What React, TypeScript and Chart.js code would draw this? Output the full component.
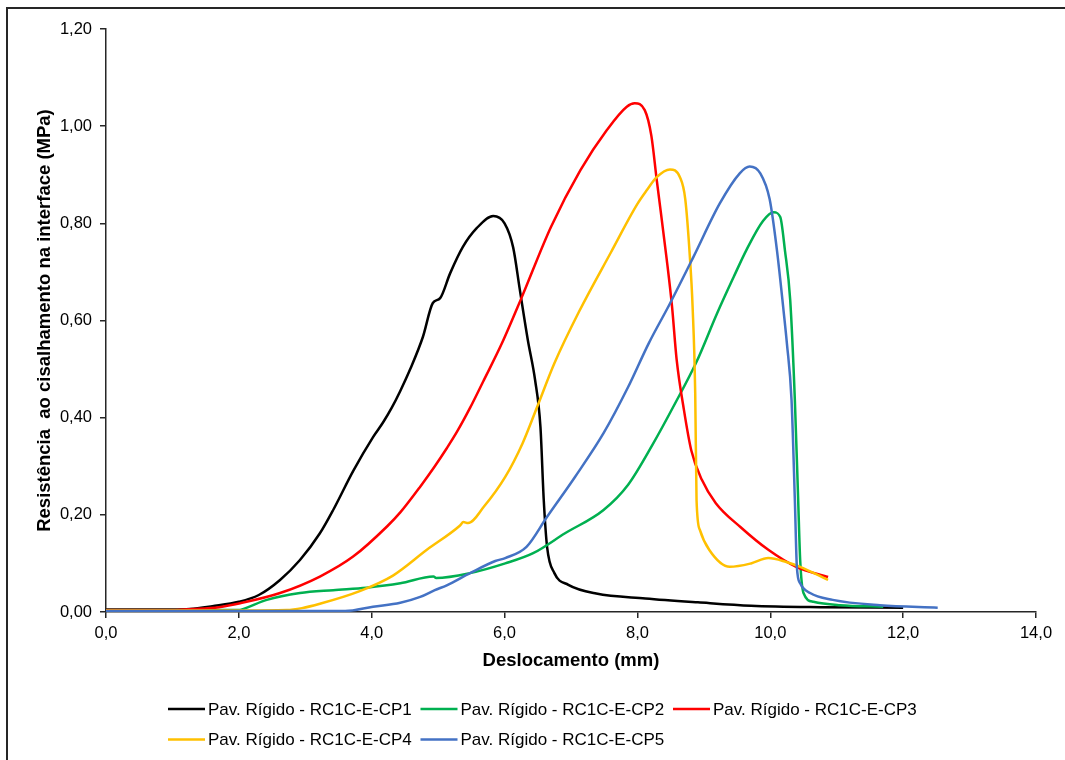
import React, { useEffect, useRef } from "react";
import { Chart, registerables } from "chart.js";

Chart.register(...registerables);

// ---- Data (x: Deslocamento mm, y: Resistência MPa) ----
const cp1X = [0, 1.0, 1.26, 1.6, 2.0, 2.3, 2.62, 2.92, 3.22, 3.42, 3.72, 4.02, 4.17, 4.3, 4.43, 4.58, 4.77, 4.92, 5.03, 5.18, 5.37, 5.58, 5.83, 6.0, 6.13, 6.23, 6.35, 6.46, 6.54, 6.59, 6.64, 6.75, 6.96, 7.38, 8.12, 8.91, 9.71, 10.76, 12.0];
const cp1Y = [0.005, 0.005, 0.006, 0.012, 0.021, 0.035, 0.066, 0.107, 0.162, 0.21, 0.29, 0.36, 0.39, 0.42, 0.455, 0.50, 0.566, 0.636, 0.646, 0.697, 0.751, 0.79, 0.815, 0.80, 0.75, 0.663, 0.56, 0.477, 0.381, 0.23, 0.134, 0.08, 0.056, 0.038, 0.028, 0.020, 0.013, 0.010, 0.009];

const cp2X = [0, 2.0, 2.06, 2.42, 2.92, 3.42, 3.92, 4.43, 4.93, 4.97, 5.48, 6.01, 6.43, 6.91, 7.49, 7.86, 8.23, 8.55, 8.89, 9.2, 9.45, 9.64, 9.89, 10.05, 10.15, 10.22, 10.3, 10.37, 10.42, 10.45, 10.5, 10.65, 11.05, 11.7];
const cp2Y = [0.004, 0.004, 0.006, 0.025, 0.039, 0.045, 0.05, 0.059, 0.073, 0.07, 0.08, 0.1, 0.121, 0.162, 0.21, 0.262, 0.345, 0.425, 0.515, 0.615, 0.69, 0.745, 0.805, 0.823, 0.813, 0.745, 0.642, 0.436, 0.23, 0.107, 0.039, 0.021, 0.014, 0.011];

const cp3X = [0, 1.0, 1.31, 1.7, 2.02, 2.62, 3.22, 3.72, 4.23, 4.43, 4.73, 4.95, 5.13, 5.28, 5.48, 5.68, 5.96, 6.25, 6.7, 7.14, 7.54, 7.84, 7.96, 8.11, 8.21, 8.29, 8.44, 8.52, 8.59, 8.7, 8.81, 8.97, 9.18, 9.55, 9.97, 10.39, 10.87];
const cp3Y = [0.004, 0.004, 0.006, 0.01, 0.018, 0.039, 0.073, 0.114, 0.176, 0.205, 0.258, 0.30, 0.337, 0.37, 0.42, 0.475, 0.553, 0.645, 0.793, 0.909, 0.992, 1.04, 1.047, 1.033, 0.98, 0.89, 0.727, 0.63, 0.52, 0.416, 0.333, 0.272, 0.224, 0.175, 0.128, 0.093, 0.072];

const cp4X = [0, 2.0, 2.72, 2.95, 3.22, 3.82, 4.32, 4.83, 5.33, 5.38, 5.45, 5.69, 6.01, 6.27, 6.49, 6.75, 7.12, 7.6, 8.0, 8.14, 8.29, 8.49, 8.64, 8.72, 8.79, 8.83, 8.87, 8.89, 8.94, 9.08, 9.39, 9.71, 9.97, 10.24, 10.45, 10.87];
const cp4Y = [0.003, 0.003, 0.004, 0.008, 0.017, 0.043, 0.075, 0.128, 0.178, 0.185, 0.183, 0.217, 0.278, 0.347, 0.422, 0.512, 0.618, 0.74, 0.84, 0.868, 0.895, 0.911, 0.895, 0.85, 0.73, 0.63, 0.45, 0.23, 0.169, 0.128, 0.093, 0.10, 0.111, 0.103, 0.093, 0.066];

const cp5X = [0, 3.6, 4.02, 4.43, 4.73, 4.95, 5.13, 5.48, 5.86, 6.01, 6.33, 6.64, 7.06, 7.49, 7.86, 8.17, 8.49, 8.84, 9.24, 9.54, 9.69, 9.85, 9.99, 10.1, 10.2, 10.25, 10.32, 10.37, 10.4, 10.45, 10.6, 10.94, 11.65, 12.52];
const cp5Y = [0.002, 0.002, 0.011, 0.019, 0.031, 0.045, 0.055, 0.08, 0.105, 0.111, 0.134, 0.196, 0.278, 0.368, 0.463, 0.553, 0.635, 0.73, 0.841, 0.903, 0.917, 0.903, 0.85, 0.745, 0.62, 0.553, 0.436, 0.23, 0.093, 0.059, 0.039, 0.025, 0.014, 0.009];

const seriesLabels = [
  "Pav. Rígido - RC1C-E-CP1",
  "Pav. Rígido - RC1C-E-CP2",
  "Pav. Rígido - RC1C-E-CP3",
  "Pav. Rígido - RC1C-E-CP4",
  "Pav. Rígido - RC1C-E-CP5",
];
const seriesColors = ["#000000", "#00B050", "#FF0000", "#FFC000", "#4472C4"];
const seriesX = [cp1X, cp2X, cp3X, cp4X, cp5X];
const seriesY = [cp1Y, cp2Y, cp3Y, cp4Y, cp5Y];

const xTitle = "Deslocamento (mm)";
const yTitle = "Resistência  ao cisalhamento na interface (MPa)";

const FONT = '"Liberation Sans", Arial, sans-serif';

const legendPlugin = {
  id: "excelLegend",
  afterDraw(chart: any) {
    const ctx = chart.ctx;
    ctx.save();
    ctx.font = `17px ${FONT}`;
    ctx.textBaseline = "middle";
    ctx.textAlign = "left";
    chart.data.datasets.forEach((ds: any, i: number) => {
      const row = Math.floor(i / 3);
      const col = i % 3;
      const x0 = 168 + col * 252.5;
      const y = 709 + row * 30.5;
      ctx.strokeStyle = ds.borderColor;
      ctx.lineWidth = 2.5;
      ctx.beginPath();
      ctx.moveTo(x0, y);
      ctx.lineTo(x0 + 37, y);
      ctx.stroke();
      ctx.fillStyle = "#000";
      ctx.fillText(ds.label, x0 + 40, y + 1);
    });
    ctx.restore();
  },
};

export default function App() {
  const ref = useRef<HTMLCanvasElement | null>(null);

  useEffect(() => {
    if (!ref.current) return;
    const datasets = seriesLabels.map((label, i) => ({
      label,
      data: seriesX[i].map((x, j) => ({ x, y: seriesY[i][j] })),
      borderColor: seriesColors[i],
      backgroundColor: seriesColors[i],
      borderWidth: 2.5,
      pointRadius: 0,
      showLine: true,
      fill: false,
      order: seriesLabels.length - i,
      cubicInterpolationMode: "monotone" as const,
    }));

    const chart = new Chart(ref.current, {
      type: "scatter",
      data: { datasets },
      plugins: [legendPlugin],
      options: {
        animation: false,
        responsive: false,
        devicePixelRatio: 1,
        layout: { padding: { top: 29, right: 29, bottom: 88, left: 0 } },
        plugins: {
          legend: { display: false },
          tooltip: { enabled: false },
        },
        scales: {
          x: {
            type: "linear",
            min: 0,
            max: 14,
            afterFit: (s: any) => {
              s.height = 60;
            },
            border: { display: true, color: "#262626", width: 1.5 },
            grid: { drawOnChartArea: false, drawTicks: true, tickLength: 6, color: "#262626", lineWidth: 1.5 },
            ticks: {
              stepSize: 2,
              padding: 6,
              color: "#000",
              font: { family: FONT, size: 16.5 },
              callback: (v: any) => Number(v).toFixed(1).replace(".", ","),
            },
            title: {
              display: true,
              text: xTitle,
              color: "#000",
              font: { family: FONT, size: 18.5, weight: "bold" },
              padding: { top: 0, bottom: 0 },
            },
          },
          y: {
            type: "linear",
            min: 0,
            max: 1.2,
            afterFit: (s: any) => {
              s.width = 106;
            },
            border: { display: true, color: "#262626", width: 1.5 },
            grid: { drawOnChartArea: false, drawTicks: true, tickLength: 6, color: "#262626", lineWidth: 1.5 },
            ticks: {
              stepSize: 0.2,
              padding: 8,
              color: "#000",
              font: { family: FONT, size: 16.5 },
              callback: (v: any) => Number(v).toFixed(2).replace(".", ","),
            },
            title: {
              display: true,
              text: yTitle,
              color: "#000",
              font: { family: FONT, size: 18.5, weight: "bold" },
              padding: { top: 34, bottom: 0 },
            },
          },
        },
      },
    });
    return () => chart.destroy();
  }, []);

  return (
    <div style={{ position: "absolute", left: 0, top: 0, width: 1065, height: 760, background: "#fff" }}>
      <canvas ref={ref} width={1065} height={760} style={{ display: "block", width: 1065, height: 760 }} />
      <div
        style={{
          position: "absolute",
          left: 6,
          top: 7,
          right: 0,
          bottom: 0,
          borderLeft: "2px solid #262626",
          borderTop: "2px solid #262626",
          pointerEvents: "none",
        }}
      />
    </div>
  );
}
